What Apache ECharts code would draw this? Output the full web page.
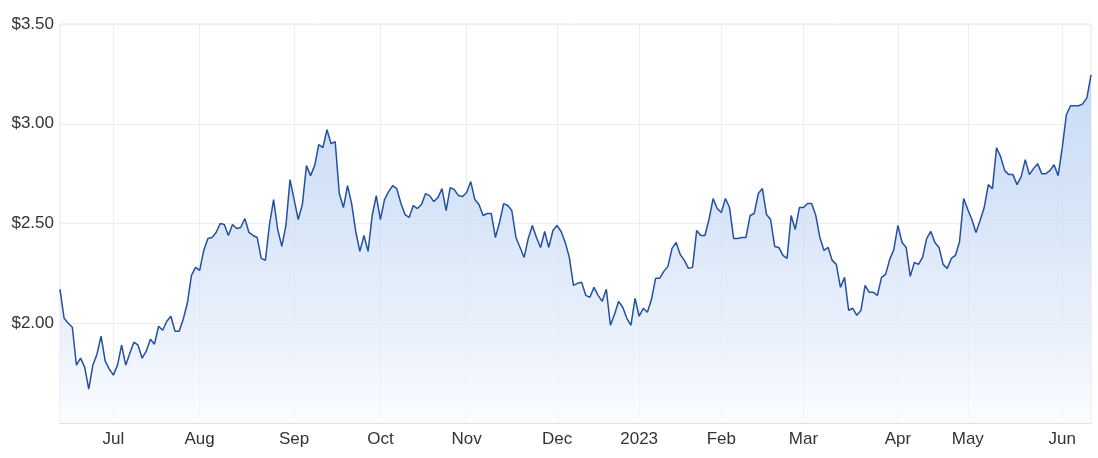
<!DOCTYPE html>
<html>
<head>
<meta charset="utf-8">
<script src="https://cdn.jsdelivr.net/npm/echarts@6/dist/echarts.min.js"></script>
<style>
  html, body { margin: 0; padding: 0; background: #ffffff; }
  #chart { width: 1098px; height: 458px; }
</style>
</head>
<body>
<div id="chart"></div>
<script>
// Daily closing prices, one array per month (trading days)
const jun22 = [2.17, 2.025, 2.00, 1.98, 1.79, 1.825, 1.78, 1.67, 1.79, 1.845, 1.935, 1.81, 1.77];
const jul22 = [1.74, 1.79, 1.89, 1.79, 1.85, 1.905, 1.89, 1.825, 1.86, 1.92, 1.895, 1.985, 1.965, 2.01, 2.035, 1.96, 1.96, 2.02, 2.10, 2.24, 2.28];
const aug22 = [2.265, 2.365, 2.425, 2.43, 2.455, 2.50, 2.495, 2.44, 2.495, 2.475, 2.48, 2.525, 2.455, 2.44, 2.43, 2.325, 2.315, 2.495, 2.62, 2.47, 2.385, 2.49, 2.72];
const sep22 = [2.62, 2.52, 2.595, 2.79, 2.74, 2.79, 2.895, 2.88, 2.97, 2.90, 2.91, 2.65, 2.58, 2.69, 2.60, 2.46, 2.36, 2.44, 2.36, 2.54, 2.64];
const oct22 = [2.52, 2.62, 2.66, 2.69, 2.675, 2.60, 2.545, 2.53, 2.59, 2.575, 2.595, 2.65, 2.64, 2.61, 2.63, 2.675, 2.565, 2.68, 2.67, 2.64, 2.635];
const nov22 = [2.655, 2.71, 2.62, 2.595, 2.54, 2.55, 2.55, 2.43, 2.505, 2.60, 2.59, 2.565, 2.43, 2.38, 2.33, 2.425, 2.49, 2.43, 2.38, 2.46, 2.38, 2.465];
const dec22 = [2.49, 2.46, 2.405, 2.33, 2.19, 2.20, 2.205, 2.14, 2.13, 2.18, 2.14, 2.11, 2.17, 1.99, 2.045, 2.11, 2.08, 2.025, 1.99, 2.125];
const jan23 = [2.035, 2.075, 2.055, 2.12, 2.225, 2.225, 2.26, 2.285, 2.375, 2.405, 2.345, 2.315, 2.275, 2.28, 2.465, 2.44, 2.44, 2.52, 2.625, 2.575];
const feb23 = [2.555, 2.625, 2.58, 2.425, 2.425, 2.43, 2.43, 2.54, 2.55, 2.65, 2.675, 2.545, 2.52, 2.385, 2.38, 2.34, 2.325, 2.54, 2.47, 2.58];
const mar23 = [2.58, 2.60, 2.60, 2.54, 2.43, 2.365, 2.38, 2.315, 2.295, 2.18, 2.23, 2.065, 2.075, 2.04, 2.065, 2.19, 2.155, 2.155, 2.14, 2.23, 2.245, 2.32, 2.37];
const apr23 = [2.49, 2.405, 2.38, 2.235, 2.305, 2.295, 2.33, 2.425, 2.46, 2.405, 2.38, 2.295, 2.275, 2.325, 2.34, 2.41, 2.625];
const may23 = [2.57, 2.52, 2.455, 2.515, 2.58, 2.695, 2.675, 2.88, 2.835, 2.765, 2.745, 2.745, 2.695, 2.735, 2.82, 2.745, 2.775, 2.80, 2.75, 2.75, 2.765, 2.795, 2.74];
const jun23 = [2.88, 3.045, 3.09, 3.09, 3.09, 3.10, 3.13, 3.245];

const monthSeries = [jun22, jul22, aug22, sep22, oct22, nov22, dec22, jan23, feb23, mar23, apr23, may23, jun23];
const monthLabels = ['', 'Jul', 'Aug', 'Sep', 'Oct', 'Nov', 'Dec', '2023', 'Feb', 'Mar', 'Apr', 'May', 'Jun'];

// Y axis ticks
const yMin = 1.5, yMax = 3.5, yStep = 0.5;

// Build categories and values
const categories = [];
const values = [];
const labelAt = {};
monthSeries.forEach((arr, m) => {
  arr.forEach((v, i) => {
    const key = m + '-' + i;
    categories.push(key);
    values.push(v);
    if (i === 0 && monthLabels[m]) labelAt[categories.length - 1] = monthLabels[m];
  });
});

const isMonthStart = (idx) => labelAt.hasOwnProperty(idx);

const chart = echarts.init(document.getElementById('chart'), null, { renderer: 'canvas' });
chart.setOption({
  animation: false,
  backgroundColor: '#ffffff',
  grid: {
    left: 60, right: 7, top: 24, bottom: 35,
    show: true, borderColor: '#e6e6e6', borderWidth: 1, backgroundColor: 'transparent'
  },
  xAxis: {
    type: 'category',
    data: categories,
    boundaryGap: false,
    axisLine: { show: true, lineStyle: { color: '#e0e0e0' } },
    axisTick: { show: false },
    axisLabel: {
      interval: (idx) => isMonthStart(idx),
      formatter: (val, idx) => labelAt[idx] || '',
      color: '#333333',
      fontFamily: 'Liberation Sans, Arial, sans-serif',
      fontSize: 17,
      margin: 8
    },
    splitLine: {
      show: true,
      interval: (idx) => isMonthStart(idx),
      lineStyle: { color: '#eeeeee', width: 1 }
    }
  },
  yAxis: {
    type: 'value',
    min: yMin, max: yMax, interval: yStep,
    axisLine: { show: false },
    axisTick: { show: false },
    axisLabel: {
      formatter: (v) => (Math.abs(v - yMin) < 1e-9 ? '' : '$' + v.toFixed(2)),
      color: '#333333',
      fontFamily: 'Liberation Sans, Arial, sans-serif',
      fontSize: 17,
      margin: 6
    },
    splitLine: { show: true, lineStyle: { color: '#eeeeee', width: 1 } }
  },
  series: [{
    type: 'line',
    data: values,
    symbol: 'none',
    smooth: false,
    lineStyle: { color: '#2450a0', width: 1.5 },
    areaStyle: {
      color: new echarts.graphic.LinearGradient(0, 0, 0, 1, [
        { offset: 0, color: 'rgb(178,204,242)' },
        { offset: 0.35, color: 'rgb(196,216,245)' },
        { offset: 0.7, color: 'rgb(222,233,249)' },
        { offset: 1, color: 'rgb(249,251,255)' }
      ])
    }
  }]
});
</script>
</body>
</html>
